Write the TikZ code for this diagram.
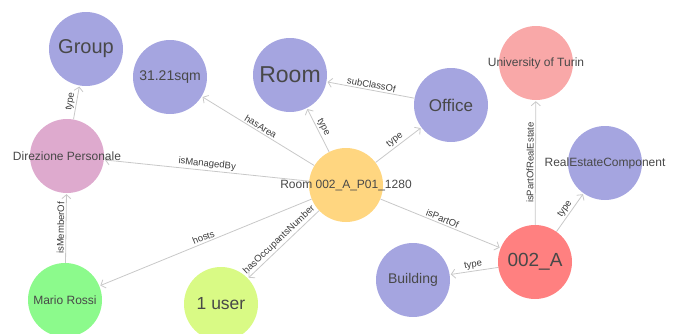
\documentclass[tikz,border=0pt]{standalone}
\usepackage{fontspec}
\setmainfont{Liberation Sans}
\usetikzlibrary{arrows.meta,backgrounds}

\definecolor{classblue}{RGB}{165,165,224}
\definecolor{roomyellow}{RGB}{255,214,128}
\definecolor{grouppink}{RGB}{222,170,206}
\definecolor{persongreen}{RGB}{140,250,140}
\definecolor{countlime}{RGB}{217,250,133}
\definecolor{unitored}{RGB}{249,168,168}
\definecolor{bldgred}{RGB}{255,128,128}
\definecolor{edgegray}{RGB}{200,200,200}
\definecolor{nodetext}{RGB}{72,72,72}
\definecolor{lbltext}{RGB}{60,60,60}

\newcommand{\fs}[1]{\fontsize{#1}{#1}\selectfont}

\begin{document}
\begin{tikzpicture}[
      x=1pt, y=-1pt,
      ent/.style={circle, minimum size=74pt, inner sep=0pt, text=nodetext},
      rel/.style={-{Straight Barb[length=4pt,width=9pt]}, draw=edgegray, line width=0.8pt, shorten >=1pt},
      lbl/.style={sloped, above, font=\fs{9.5}, text=lbltext, inner sep=1.5pt}
    ]
    \useasboundingbox (0,0) rectangle (678,333);

    % Left side: group and people
    \node[ent, fill=classblue, font=\fs{20}] (group) at (86,49) {Group};
    \node[ent, fill=grouppink, font=\fs{12}] (direzione) at (67,156) {\makebox[0pt]{Direzione Personale}};
    \node[ent, fill=persongreen, font=\fs{12}] (mario) at (65,300) {Mario Rossi};

    % Middle: the room and its values
    \node[ent, fill=classblue, font=\fs{14}] (area) at (170,77) {31.21sqm};
    \node[ent, fill=classblue, font=\fs{23}] (roomclass) at (290,75) {Room};
    \node[ent, fill=classblue, font=\fs{17}] (office) at (451,105) {Office};
    \node[ent, fill=roomyellow, font=\fs{12}] (room) at (346,185) {\makebox[0pt]{Room 002\_A\_P01\_1280}};
    \node[ent, fill=countlime, font=\fs{17.5}] (users) at (221,304) {1 user};

    % Right side: the building
    \node[ent, fill=unitored, font=\fs{12}] (unito) at (536,63) {\makebox[0pt]{University of Turin}};
    \node[ent, fill=classblue, font=\fs{12}] (rec) at (605,163) {\makebox[0pt]{RealEstateComponent}};
    \node[ent, fill=bldgred, font=\fs{19}] (bldga) at (535,262) {002\_A};
    \node[ent, fill=classblue, font=\fs{14}] (building) at (413,280) {Building};

    % Relationships
    \begin{scope}[on background layer]
      \draw[rel] (direzione) -- node[lbl] {type} (group);
      \draw[rel] (mario) -- node[lbl] {isMemberOf} (direzione);
      \draw[rel] (room) -- node[lbl] {isManagedBy} (direzione);
      \draw[rel] (room) -- node[lbl] {hasArea} (area);
      \draw[rel] (room) -- node[lbl] {type} (roomclass);
      \draw[rel] (office) -- node[lbl] {subClassOf} (roomclass);
      \draw[rel] (room) -- node[lbl] {type} (office);
      \draw[rel] (room) -- node[lbl] {hosts} (mario);
      \draw[rel] (room) -- node[lbl] {hasOccupantsNumber} (users);
      \draw[rel] (room) -- node[lbl] {isPartOf} (bldga);
      \draw[rel] (bldga) -- node[lbl] {isPartOfRealEstate} (unito);
      \draw[rel] (bldga) -- node[lbl] {type} (rec);
      \draw[rel] (bldga) -- node[lbl] {type} (building);
    \end{scope}

  \end{tikzpicture}
\end{document}
